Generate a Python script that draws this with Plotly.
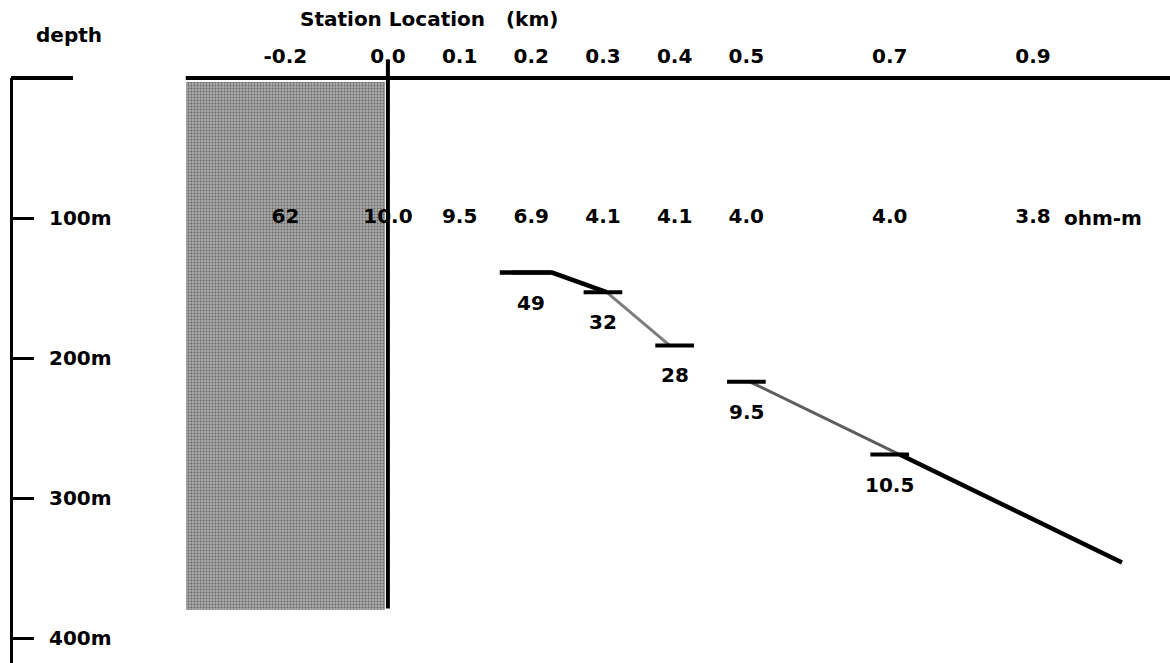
import plotly.graph_objects as go

# ---- data -------------------------------------------------------------
# Station positions along the profile (km)
STATION_KM = [-0.2, 0.0, 0.1, 0.2, 0.3, 0.4, 0.5, 0.7, 0.9]

# Upper-layer resistivity at each station, listed on the 100 m level (ohm-m)
UPPER_RHO = [62, 10.0, 9.5, 6.9, 4.1, 4.1, 4.0, 4.0, 3.8]
RHO_LEVEL_M = 100

# Base of the conductive layer at each station and the resistivity beneath it
BOUNDARY_KM = [0.2, 0.3, 0.4, 0.5, 0.7]
BOUNDARY_DEPTH_M = [139, 153, 191, 217, 269]
LOWER_RHO = [49, 32, 28, 9.5, 10.5]

# Interpreted interface traced through the boundaries
INTERFACE_KM = [0.156, 0.229, 0.305, 0.393, 0.505, 0.714, 1.024]
INTERFACE_DEPTH_M = [139, 139, 153, 191, 217, 269, 346]

# Resistive block west of the contact (km, m)
BLOCK_KM = (-0.282, -0.004)
BLOCK_DEPTH_M = (3, 380)
CONTACT_BOTTOM_M = 379

DEPTH_TICKS_M = [100, 200, 300, 400]

# ---- layout constants -------------------------------------------------
W, H = 1170, 663
M_LEFT, M_TOP = 13, 78
X_RANGE = [-0.523, 1.091]
Y_RANGE = [417.86, 0]          # depth axis, downward
WEST_STATION_X = -0.143        # west station label sits inside the shaded block
MARK_HALF_KM = 0.027

FONT = dict(family="DejaVu Sans", size=20, color="black", weight="bold")
PLOT_H = H - M_TOP
PLOT_W = W - M_LEFT


def px_to_paper_x(px):
    return (px - M_LEFT) / PLOT_W


def px_to_paper_y(py):
    return (H - py) / PLOT_H


def depth_to_paper_y(d):
    return 1 - d / Y_RANGE[0]


def fmt_rho(v):
    return f"{v:.0f}" if v >= 20 else f"{v:.1f}"


station_x = [WEST_STATION_X if s < 0 else s for s in STATION_KM]
station_labels = [f"{s:.1f}" for s in STATION_KM]

fig = go.Figure()

# shaded resistive block
fig.add_trace(go.Bar(
    x=[(BLOCK_KM[0] + BLOCK_KM[1]) / 2],
    y=[BLOCK_DEPTH_M[1] - BLOCK_DEPTH_M[0]],
    base=[BLOCK_DEPTH_M[0]],
    width=[BLOCK_KM[1] - BLOCK_KM[0]],
    marker=dict(
        color="#a9a9a9",
        line_width=0,
        pattern=dict(shape=".", fgcolor="#1e1e1e", size=3, solidity=0.3,
                     fillmode="overlay"),
    ),
    hoverinfo="skip",
    showlegend=False,
))

# interface: solid where well resolved, faint where inferred
segments = [(0, 2, "black", 4.5), (2, 3, "#7d7d7d", 3),
            (4, 5, "#5e5e5e", 3), (5, 6, "black", 4.5)]
for i0, i1, col, wid in segments:
    fig.add_trace(go.Scatter(
        x=INTERFACE_KM[i0:i1 + 1], y=INTERFACE_DEPTH_M[i0:i1 + 1],
        mode="lines", line=dict(color=col, width=wid),
        hoverinfo="skip", showlegend=False,
    ))

# short horizontal marks at each boundary depth
mx, my = [], []
for s, d in zip(BOUNDARY_KM, BOUNDARY_DEPTH_M):
    mx += [s - MARK_HALF_KM, s + MARK_HALF_KM, None]
    my += [d, d, None]
fig.add_trace(go.Scatter(
    x=mx, y=my, mode="lines", line=dict(color="black", width=4),
    hoverinfo="skip", showlegend=False,
))

# upper-layer resistivities on the 100 m level
fig.add_trace(go.Scatter(
    x=station_x, y=[RHO_LEVEL_M] * len(station_x), mode="text",
    text=[fmt_rho(v) for v in UPPER_RHO], textfont=FONT,
    textposition="middle center", hoverinfo="skip", showlegend=False,
))

annotations = [
    dict(text="Station Location   (km)", xref="paper", yref="paper",
         x=px_to_paper_x(298), y=px_to_paper_y(19), xanchor="left",
         yanchor="middle", showarrow=False, font=FONT),
    dict(text="depth", xref="paper", yref="paper",
         x=px_to_paper_x(34), y=px_to_paper_y(35), xanchor="left",
         yanchor="middle", showarrow=False, font=FONT),
    dict(text="ohm-m", xref="x", yref="y", x=0.94, y=RHO_LEVEL_M,
         xanchor="left", yanchor="middle", showarrow=False, font=FONT),
]
for s, d, r in zip(BOUNDARY_KM, BOUNDARY_DEPTH_M, LOWER_RHO):
    annotations.append(dict(
        text=f"{r:g}", x=s, y=d, xref="x", yref="y", yshift=-30,
        xanchor="center", yanchor="middle", showarrow=False, font=FONT,
    ))

shapes = [
    # cap of the depth scale
    dict(type="line", xref="paper", yref="paper",
         x0=px_to_paper_x(11), x1=px_to_paper_x(73), y0=1, y1=1,
         line=dict(color="black", width=4)),
    # ground surface
    dict(type="line", xref="x", yref="paper",
         x0=BLOCK_KM[0], x1=X_RANGE[1] + 0.05, y0=1, y1=1,
         line=dict(color="black", width=4)),
    # contact at station 0.0
    dict(type="line", xref="x", yref="paper", x0=0, x1=0,
         y0=depth_to_paper_y(CONTACT_BOTTOM_M), y1=px_to_paper_y(60),
         line=dict(color="black", width=4)),
]

fig.update_layout(
    width=W, height=H, autosize=False,
    margin=dict(l=M_LEFT, r=0, t=M_TOP, b=0, pad=0),
    paper_bgcolor="white", plot_bgcolor="white",
    showlegend=False, hovermode=False,
    annotations=annotations, shapes=shapes,
    bargap=0,
)
fig.update_xaxes(
    side="top", range=X_RANGE, showgrid=False, zeroline=False,
    showline=False, ticks="", tickvals=station_x, ticktext=station_labels,
    tickfont=FONT, ticklabelstandoff=10, fixedrange=True,
)
fig.update_yaxes(
    range=Y_RANGE, showgrid=False, zeroline=False,
    showline=True, linecolor="black", linewidth=3,
    ticks="inside", ticklen=21, tickwidth=3, tickcolor="black",
    tickvals=DEPTH_TICKS_M, ticktext=[f"{d}m" for d in DEPTH_TICKS_M],
    ticklabelposition="inside", ticklabelstandoff=16,
    tickfont=FONT, fixedrange=True,
)

fig.write_html("out.html", config={"displayModeBar": False})
